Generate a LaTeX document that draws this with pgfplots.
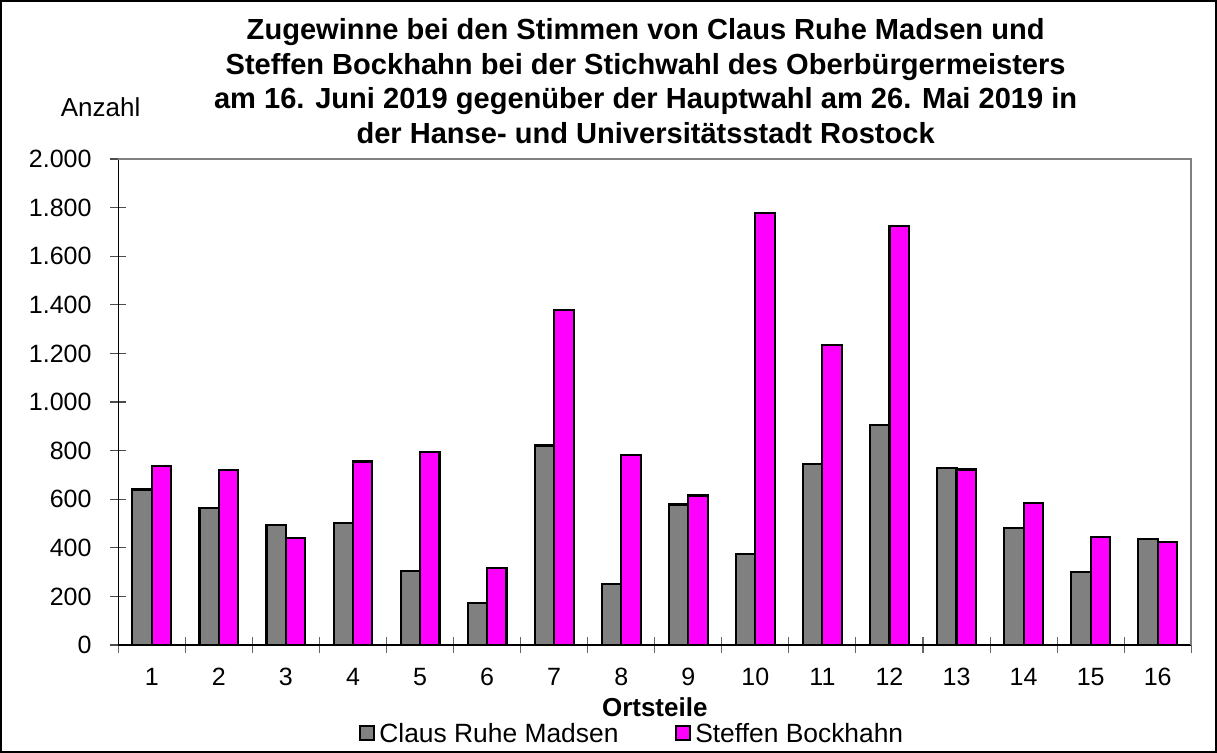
\documentclass[border=0pt]{standalone}
\usepackage{fontspec}
\setmainfont{Liberation Sans}
\usepackage{pgfplots}
\pgfplotsset{compat=1.18}
\definecolor{barg}{HTML}{808080}
\definecolor{barm}{HTML}{FF00FF}
\begin{document}
\begin{tikzpicture}
\begin{axis}[
  scale only axis, width=804.75pt, height=364.5pt,
  xmin=0.5, xmax=16.5, ymin=0, ymax=2000,
  ybar=0pt, bar width=14.55pt,
  clip=false,
  axis x line*=bottom, axis y line*=left,
  axis line style={black, line width=1pt},
  xtick={1,...,16},
  major x tick style={draw=none},
  minor xtick={0.5,1.5,...,16.5},
  minor x tick style={black!60, line width=0.8pt},
  minor tick length=11.25pt,
  ytick={0,200,...,2000},
  major tick length=12pt,
  y tick style={black!70, line width=0.8pt},
  tick align=center,
  /pgf/number format/.cd, 1000 sep={.}, assume math mode=true,
  /pgfplots/.cd,
  ticklabel style={font=\fontsize{18.75}{22}\selectfont},
  yticklabel style={xshift=-10.5pt},
  xticklabel style={yshift=-8pt},
  xlabel={Ortsteile},
  xlabel style={font=\bfseries\fontsize{19.5}{22}\selectfont, at={(axis description cs:0.5,-0.127)}, anchor=center},
  legend style={at={(axis description cs:0.479,-0.182)}, anchor=center, draw=none, fill=none,
    font=\fontsize{19.8}{22}\selectfont, inner sep=0pt,
    /tikz/every even column/.append style={column sep=40pt}},
  legend columns=2,
  legend image code/.code={\draw[#1, line width=1.5pt] (0pt,-5.25pt) rectangle (10.5pt,5.25pt); \path (12pt,0pt);},
]
\addplot[draw=black, line width=1.6pt, fill=barg] coordinates {
(1,640) (2,564) (3,493) (4,502) (5,303) (6,172) (7,821) (8,251)
(9,578) (10,375) (11,744) (12,905) (13,730) (14,480) (15,302) (16,436)};
\addplot[draw=black, line width=1.6pt, fill=barm] coordinates {
(1,737) (2,721) (3,441) (4,755) (5,793) (6,317) (7,1379) (8,782)
(9,615) (10,1776) (11,1235) (12,1723) (13,722) (14,583) (15,443) (16,424)};
\legend{Claus Ruhe Madsen, Steffen Bockhahn}
\draw[black!50, line width=1.5pt] (rel axis cs:0,1) -- (rel axis cs:1,1) -- (rel axis cs:1,0);
\node[font=\fontsize{19.5}{22}\selectfont] at (axis description cs:-0.0165,1.107) {Anzahl};
\node[align=center, font=\bfseries\fontsize{21.8}{25.9}\selectfont] at (axis description cs:0.4915,1.16)
 {Zugewinne bei den Stimmen von Claus Ruhe Madsen und\\
  Steffen Bockhahn bei der Stichwahl des Oberbürgermeisters\\
  am 16. Juni 2019 gegenüber der Hauptwahl am 26. Mai 2019 in\\
  der Hanse- und Universitätsstadt Rostock};
\draw[black, line width=1.5pt] ([xshift=-87.95pt,yshift=-80.25pt]rel axis cs:0,0) rectangle ([xshift=18.55pt,yshift=118.5pt]rel axis cs:1,1);
\end{axis}
\end{tikzpicture}
\end{document}
